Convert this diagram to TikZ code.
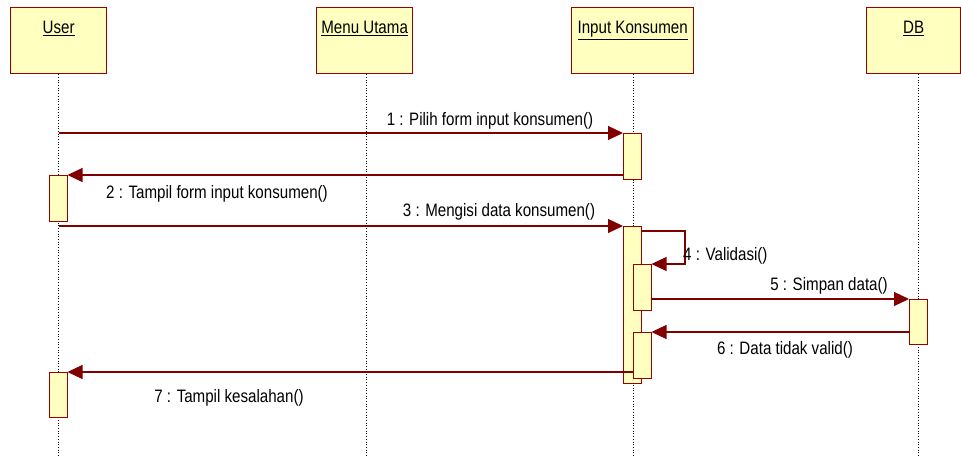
\documentclass[tikz,border=0pt]{standalone}
\usepackage{fontspec}
\setmainfont{Liberation Sans}[FakeStretch=0.84]
\usetikzlibrary{arrows.meta,calc}
\definecolor{umlfill}{HTML}{FFFFC0}
\definecolor{umlline}{HTML}{990000}
\definecolor{msgline}{HTML}{800000}
\begin{document}
\begin{tikzpicture}[x=1pt,y=-1pt,
  obj/.style={draw=umlline,fill=umlfill,line width=1.3pt,minimum width=96pt,minimum height=66pt,inner sep=0pt,anchor=north west},
  objtitle/.style={font=\fontsize{18}{20}\selectfont,anchor=north,inner sep=0pt},
  act/.style={draw=umlline,fill=umlfill,line width=1pt,minimum width=17.5pt,inner sep=0pt,anchor=north west},
  life/.style={black,dotted,line width=0.7pt},
  msg/.style={draw=msgline,line width=1.2pt,-{Triangle[length=15pt,width=14pt]}},
  lbl/.style={font=\fontsize{18}{20}\selectfont,inner sep=0pt}]
\useasboundingbox (0,0) rectangle (961,457);
% objects
\node[obj] (user) at (10,7) {};
\node[obj] (menu) at (316,7) {};
\node[obj,minimum width=122pt] (ik) at (571,7) {};
\node[obj,minimum width=94pt] (db) at (866,7) {};
\node[objtitle] (tuser) at ($(user.north)+(0,14)$) {\underline{User}};
\node[objtitle] (tmenu) at ($(menu.north)+(0,14)$) {\underline{Menu Utama}};
\node[objtitle] (tik) at ($(ik.north)+(0,14)$) {\underline{Input Konsumen}};
\node[objtitle] (tdb) at ($(db.north)+(0,14)$) {\underline{DB}};
% lifelines
\coordinate (lu) at (59,457);
\coordinate (lm) at (366,457);
\coordinate (lik) at (634,457);
\coordinate (ldb) at (918,457);
\draw[life] (user.south) ++(-0.5,0) coordinate (lu0) -- (lu0 |- lu);
\draw[life] (menu.south) ++(2,0) coordinate (lm0) -- (lm0 |- lm);
\draw[life] (ik.south) ++(1,0) coordinate (lik0) -- (lik0 |- lik);
\draw[life] (db.south) ++(5,0) coordinate (ldb0) -- (ldb0 |- ldb);
% activations
\node[act,minimum height=46pt] (ik1) at (623,133) {};
\node[act,minimum height=46pt] (u1) at (49,175) {};
\node[act,minimum height=157pt] (ik2) at (623,226) {};
\node[act,minimum height=46pt] (na) at (633,264) {};
\node[act,minimum height=45pt] (db1) at (909,299) {};
\node[act,minimum height=46pt] (nb) at (633,332) {};
\node[act,minimum height=45pt] (u2) at (49,372) {};
% messages
\coordinate (m1s) at (59,133);
\coordinate (m3s) at (59,226);
\coordinate (m4a) at (685,231);
\draw[msg] (m1s) -- (ik1.north west);
\draw[msg] (ik1.west |- u1.north) -- (u1.north east);
\draw[msg] (m3s) -- (ik2.north west);
\draw[msg] (ik2.east |- m4a) -- (m4a) -- (m4a |- na.north) -- (na.north east);
\draw[msg] (na.east |- db1.north) -- (db1.north west);
\draw[msg] (db1.west |- nb.north) -- (nb.north east);
\draw[msg] (nb.west |- u2.north) -- (u2.north east);
% labels
\node[lbl] (l1) at (490,121) {1 : Pilih form input konsumen()};
\node[lbl] (l2) at (217,194) {2 : Tampil form input konsumen()};
\node[lbl] (l3) at (499,212) {3 : Mengisi data konsumen()};
\node[lbl,anchor=west] (l4) at (683,256) {4 : Validasi()};
\node[lbl] (l5) at (829,286) {5 : Simpan data()};
\node[lbl] (l6) at (785,350) {6 : Data tidak valid()};
\node[lbl] (l7) at (229,398) {7 : Tampil kesalahan()};
\end{tikzpicture}
\end{document}
